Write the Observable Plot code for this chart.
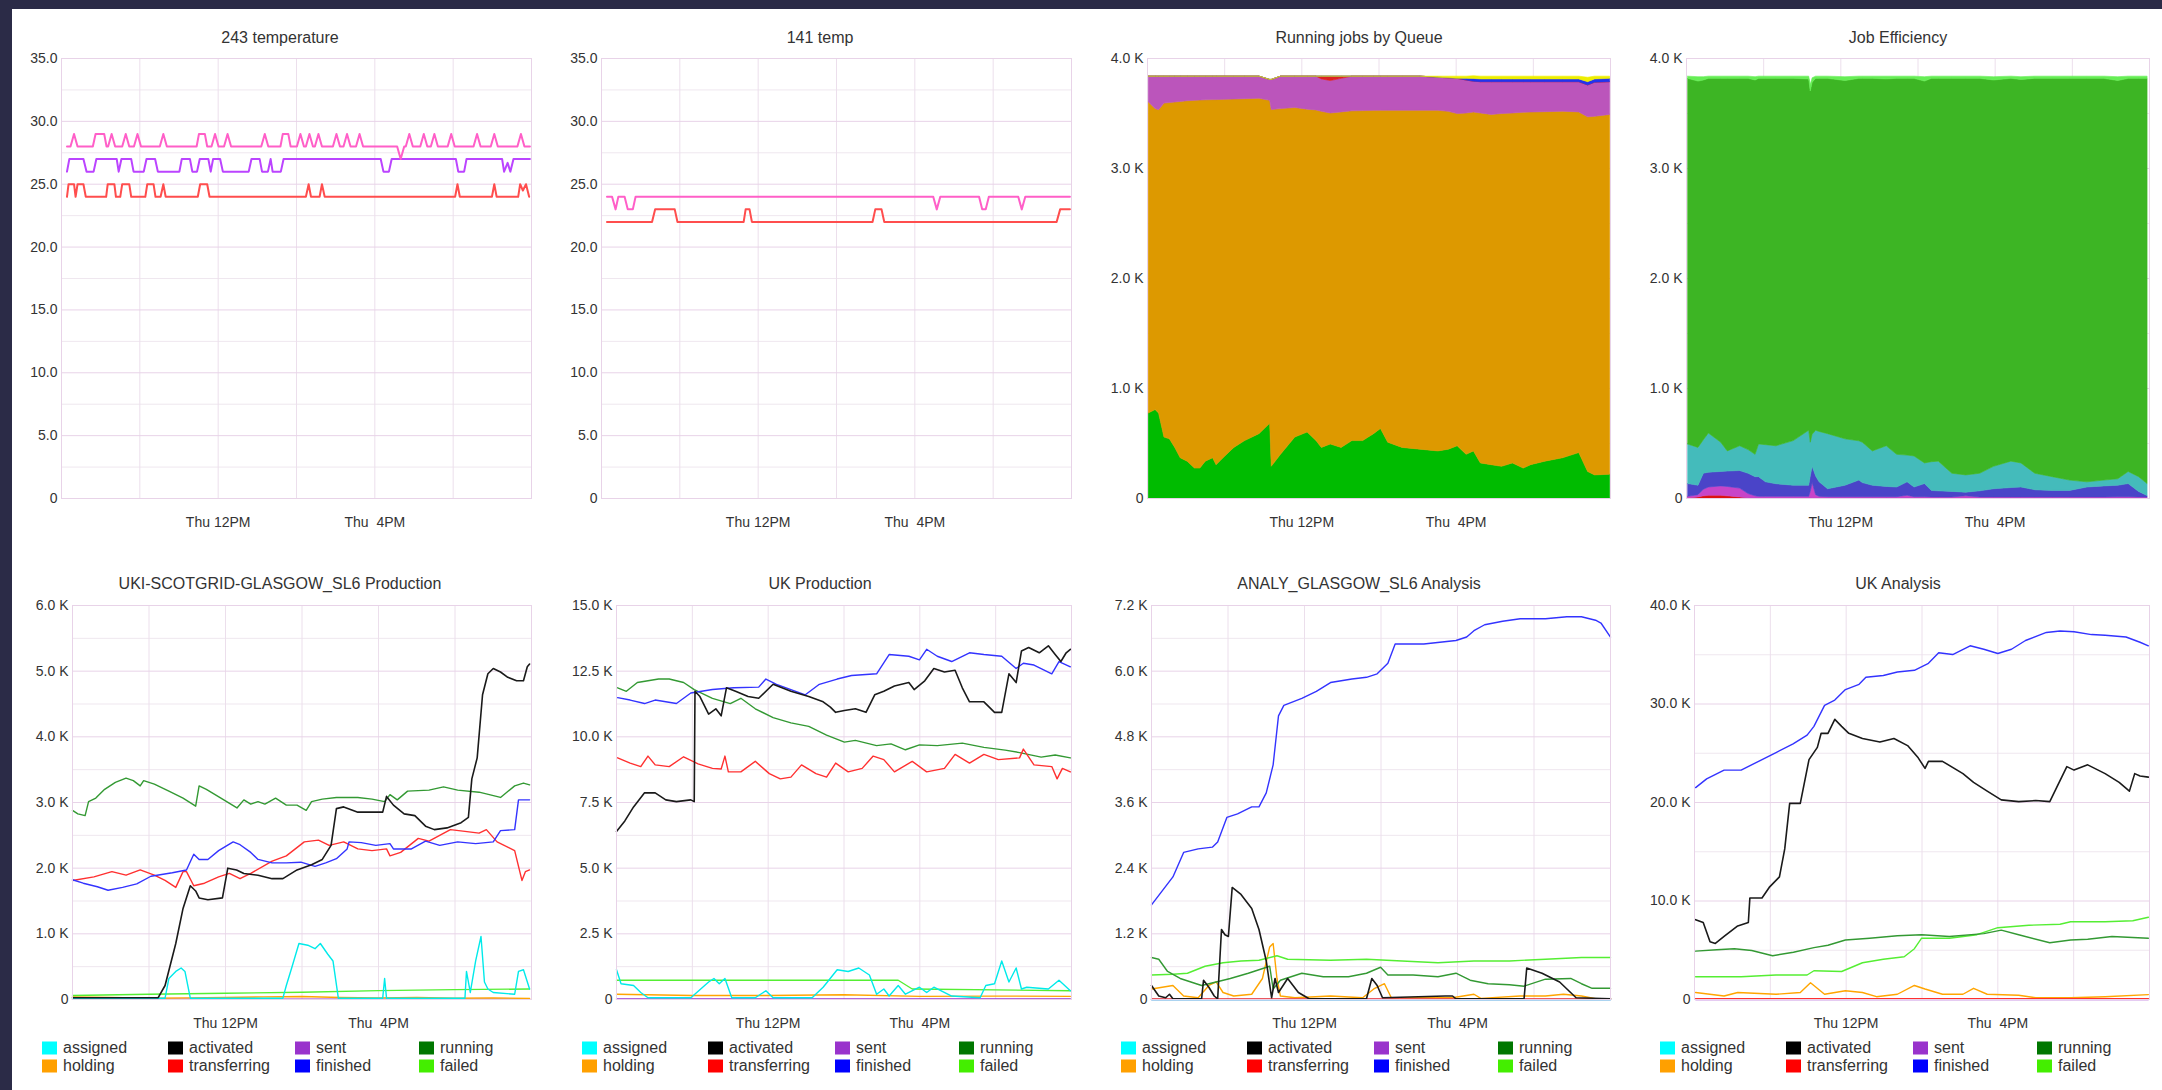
<!DOCTYPE html>
<html>
<head>
<meta charset="utf-8">
<script src="https://cdn.jsdelivr.net/npm/d3@7"></script>
<script src="https://cdn.jsdelivr.net/npm/@observablehq/plot@0.6"></script>
<style>
html,body{margin:0;padding:0;background:#2b2b47;}
#page{position:relative;width:2162px;height:1090px;background:#2b2b47;overflow:hidden;font-family:"Liberation Sans",Arial,sans-serif;}
#sheet{position:absolute;left:12px;top:9px;width:2150px;height:1081px;background:#fff;}
.chart{position:absolute;}
.chart svg{display:block;overflow:visible;}
.title{position:absolute;transform:translate(-50%,-50%);font-size:16px;color:#333;white-space:nowrap;line-height:1;}
.lg-sw{position:absolute;width:15px;height:13px;transform:translateY(-50%);}
.lg-tx{position:absolute;transform:translateY(-50%);font-size:16px;color:#333;white-space:nowrap;line-height:1;}
</style>
</head>
<body>
<div id="page"><div id="sheet"></div></div>
<script>
// ---------------- shared axis data ----------------
const xGrid = [8, 10, 12, 14, 16, 18, 20];
const xTickHours = [12, 16];
const xTickLabels = ["Thu 12PM", "Thu\u00a0\u00a04PM"];

const chartTitles = ["243 temperature", "141 temp", "Running jobs by Queue", "Job Efficiency",
  "UKI-SCOTGRID-GLASGOW_SL6 Production", "UK Production", "ANALY_GLASGOW_SL6 Analysis", "UK Analysis"];

const tempTicks = [0, 5, 10, 15, 20, 25, 30, 35];
const tempTickLabels = ["0", "5.0", "10.0", "15.0", "20.0", "25.0", "30.0", "35.0"];
const tempMinor = [2.5, 7.5, 12.5, 17.5, 22.5, 27.5, 32.5];
const jobsTicks = [0, 1000, 2000, 3000, 4000];
const jobsTickLabels = ["0", "1.0 K", "2.0 K", "3.0 K", "4.0 K"];
const jobsMinor = [500, 1500, 2500, 3500];
const p5Ticks = [0, 1000, 2000, 3000, 4000, 5000, 6000];
const p5TickLabels = ["0", "1.0 K", "2.0 K", "3.0 K", "4.0 K", "5.0 K", "6.0 K"];
const p5Minor = [500, 1500, 2500, 3500, 4500, 5500];
const p6Ticks = [0, 2500, 5000, 7500, 10000, 12500, 15000];
const p6TickLabels = ["0", "2.5 K", "5.0 K", "7.5 K", "10.0 K", "12.5 K", "15.0 K"];
const p6Minor = [1250, 3750, 6250, 8750, 11250, 13750];
const p7Ticks = [0, 1200, 2400, 3600, 4800, 6000, 7200];
const p7TickLabels = ["0", "1.2 K", "2.4 K", "3.6 K", "4.8 K", "6.0 K", "7.2 K"];
const p7Minor = [600, 1800, 3000, 4200, 5400, 6600];
const p8Ticks = [0, 10000, 20000, 30000, 40000];
const p8TickLabels = ["0", "10.0 K", "20.0 K", "30.0 K", "40.0 K"];
const p8Minor = [5000, 15000, 25000, 35000];

// ---------------- 243 temperature ----------------
const temp243Pink = [[8.14,28],[8.23,28],[8.32,29],[8.41,28],[8.80,28],[8.87,29],[9.09,29],[9.15,28],[9.19,28],[9.28,29],[9.37,28],[9.55,28],[9.64,29],[9.73,28],[9.85,28],[9.94,29],[10.03,28],[10.51,28],[10.60,29],[10.69,28],[11.45,28],[11.51,29],[11.66,29],[11.72,28],[11.83,28],[11.92,29],[12.01,28],[12.15,28],[12.24,29],[12.33,28],[13.10,28],[13.19,29],[13.28,28],[13.59,28],[13.65,29],[13.79,29],[13.85,28],[14.01,28],[14.10,29],[14.19,28],[14.24,28],[14.33,29],[14.42,28],[14.47,28],[14.56,29],[14.65,28],[14.93,28],[15.02,29],[15.11,28],[15.20,28],[15.29,29],[15.38,28],[15.52,28],[15.61,29],[15.70,28],[16.57,28],[16.66,27],[16.75,28],[16.79,28],[16.88,29],[16.97,28],[17.16,28],[17.25,29],[17.34,28],[17.43,28],[17.52,29],[17.61,28],[17.86,28],[17.95,29],[18.04,28],[18.52,28],[18.61,29],[18.70,28],[18.96,28],[19.05,29],[19.14,28],[19.64,28],[19.73,29],[19.82,28],[19.96,28]];
const temp243Purple = [[8.14,26],[8.20,27],[8.56,27],[8.64,26],[8.82,26],[8.89,27],[9.41,27],[9.46,26],[9.53,27],[9.78,27],[9.84,26],[10.10,26],[10.17,27],[10.39,27],[10.46,26],[11.01,26],[11.07,27],[11.28,27],[11.34,26],[11.46,26],[11.53,27],[11.75,27],[11.81,26],[11.87,27],[12.05,27],[12.12,26],[12.78,26],[12.85,27],[13.06,27],[13.12,26],[13.27,26],[13.34,27],[13.39,26],[13.60,26],[13.67,27],[16.15,27],[16.22,26],[16.36,26],[16.43,27],[18.07,27],[18.13,26],[18.28,26],[18.34,27],[19.25,27],[19.30,26],[19.39,26.7],[19.46,26],[19.54,27],[19.96,27]];
const temp243Red = [[8.14,24],[8.18,25],[8.32,25],[8.36,24],[8.41,25],[8.56,25],[8.62,24],[9.14,24],[9.18,25],[9.35,25],[9.39,24],[9.50,24],[9.55,25],[9.73,25],[9.78,24],[10.14,24],[10.19,25],[10.35,25],[10.40,24],[10.53,24],[10.60,25],[10.66,24],[11.48,24],[11.54,25],[11.72,25],[11.78,24],[14.24,24],[14.31,25],[14.37,24],[14.59,24],[14.65,25],[14.72,24],[18.05,24],[18.11,25],[18.17,24],[18.99,24],[19.05,25],[19.11,24],[19.66,24],[19.71,25],[19.78,24.5],[19.86,25],[19.94,24]];

// ---------------- 141 temp ----------------
const temp141Pink = [[8.14,24],[8.27,24],[8.36,23],[8.43,24],[8.59,24],[8.67,23],[8.80,23],[8.87,24],[16.47,24],[16.56,23],[16.65,24],[17.64,24],[17.72,23],[17.81,23],[17.89,24],[18.64,24],[18.73,23],[18.82,24],[19.96,24]];
const temp141Red = [[8.14,22],[9.29,22],[9.37,23],[9.87,23],[9.94,22],[11.63,22],[11.68,23],[11.78,23],[11.84,22],[14.92,22],[14.99,23],[15.15,23],[15.22,22],[19.62,22],[19.71,23],[19.96,23]];
const tempColors = {pink: "#ff5fc8", purple: "#bb44ff", red: "#ff4d4d"};

// ---------------- Running jobs by Queue (stacked, bottom to top) ----------------
const queueTimes = [8.03,8.21,8.30,8.44,8.58,8.72,8.86,9.04,9.23,9.37,9.51,9.70,9.79,9.97,10.25,10.53,10.90,11.18,11.22,11.46,11.83,12.15,12.38,12.52,12.75,13.03,13.31,13.59,13.87,14.05,14.24,14.61,15.07,15.54,15.81,16.04,16.27,16.46,16.64,16.92,17.19,17.47,17.75,17.94,18.31,18.77,19.19,19.42,19.60,19.99];
const queue1 = [772,804,772,554,538,460,366,335,272,272,335,366,303,366,460,522,585,679,288,397,554,600,522,460,491,460,522,522,585,632,507,460,444,428,444,475,397,428,319,303,288,319,272,303,335,366,413,241,210,216];
const queue2 = [2831,2736,2758,3036,3057,3140,3239,3277,3343,3346,3285,3256,3319,3258,3167,3108,3049,2936,3243,3143,2996,2935,3006,3055,3009,3050,2998,3000,2939,2893,3018,3065,3081,3097,3071,3020,3103,3081,3181,3184,3207,3181,3235,3206,3177,3150,3097,3224,3260,3271];
const queue3 = [232,295,305,245,240,235,230,223,220,217,215,213,213,211,208,205,201,190,274,295,285,300,307,295,295,305,315,313,311,310,310,310,310,300,305,320,300,280,285,298,290,285,278,276,273,269,275,290,310,298];
const queue4 = [0,0,0,0,0,0,0,0,0,0,0,0,0,0,0,0,0,0,0,0,0,0,0,25,40,20,0,0,0,0,0,0,0,0,0,0,0,0,0,0,0,0,0,0,0,0,0,0,0,0];
const queue5 = [0,0,0,0,0,0,0,0,0,0,0,0,0,0,0,0,0,0,0,0,0,0,0,0,0,0,0,0,0,0,0,0,0,0,0,0,15,25,25,25,25,25,25,25,25,25,25,30,30,30];
const queue6 = [0,0,0,0,0,0,0,0,0,0,0,0,0,0,0,0,0,0,0,0,0,0,0,0,0,0,0,0,0,0,0,0,0,10,15,20,20,25,25,25,25,25,25,25,25,25,25,40,25,20];
const queueNames = ["queue 1", "queue 2", "queue 3", "queue 4", "queue 5", "queue 6"];
const queueColors = ["#00bb00", "#dd9900", "#bb55bb", "#dd2222", "#2233ee", "#eeee00"];

// ---------------- Job Efficiency (stacked, bottom to top) ----------------
const effTimes = [8.04,8.31,8.45,8.58,8.90,9.07,9.39,9.61,9.79,9.88,10.06,10.33,10.78,11.18,11.22,11.27,11.36,11.45,11.67,12.12,12.48,12.57,12.83,13.19,13.46,13.73,13.91,14.18,14.36,14.54,14.89,15.25,15.61,15.97,16.42,16.68,17.04,17.49,17.94,18.39,18.83,19.19,19.46,19.73,19.95];
const eff1 = [0,10,20,25,25,20,10,0,0,0,0,0,0,0,0,0,0,0,0,0,0,0,0,0,0,0,0,0,0,0,0,0,0,0,0,0,0,0,0,0,0,0,0,0,0];
const eff2 = [15,20,60,75,85,85,80,40,20,15,15,15,15,15,60,140,30,15,12,12,12,12,12,12,12,25,12,12,10,10,10,20,10,10,10,10,10,10,10,10,10,12,12,10,8];
const eff3 = [116,86,145,135,131,140,160,185,174,179,132,115,101,101,140,148,170,132,72,104,151,128,104,93,88,122,88,119,59,55,50,33,55,74,85,90,65,59,59,90,100,104,119,50,14];
const eff4 = [360,344,305,356,266,183,225,215,203,297,338,345,406,500,307,292,416,458,501,422,357,367,312,370,297,243,282,188,261,270,165,157,160,204,240,219,150,125,94,47,53,59,110,134,109];
const eff5 = [3324,3330,3270,3224,3308,3387,3340,3375,3403,3324,3330,3340,3293,3194,3193,3200,3199,3210,3230,3257,3295,3308,3387,3335,3418,3425,3433,3471,3485,3480,3590,3605,3590,3512,3480,3486,3590,3621,3652,3668,3652,3620,3574,3621,3684];
const eff6 = [20,40,30,20,20,20,20,20,30,20,20,20,20,25,60,40,20,20,20,35,20,20,20,25,20,20,20,40,20,20,20,20,20,30,20,25,20,20,20,20,20,35,20,20,20];
const effNames = ["band 1", "band 2", "band 3", "band 4", "band 5", "band 6"];
const effColors = ["#dd1111", "#c844c8", "#4a44c8", "#44bbbb", "#3db524", "#66ee55"];

// ---------------- job states ----------------
const jobStates = ["assigned", "activated", "sent", "running", "holding", "transferring", "finished", "failed"];
const stateSwatch = ["#00ffff", "#000000", "#9933cc", "#007700", "#ffa000", "#ff0000", "#0000ff", "#44ee00"];
const stateLine = ["#00eaea", "#1a1a1a", "#9933cc", "#339933", "#ffa500", "#ff3030", "#3333ff", "#55ee33"];

// UKI-SCOTGRID-GLASGOW_SL6 Production
const p5Assigned = [[8.00,20],[10.42,20],[10.52,320],[10.61,373],[10.70,427],[10.84,480],[10.94,427],[11.08,20],[13.50,20],[13.59,213],[13.73,480],[13.92,853],[14.15,827],[14.34,773],[14.48,853],[14.67,693],[14.81,587],[14.95,20],[16.11,20],[16.16,320],[16.21,20],[18.26,20],[18.30,427],[18.40,107],[18.54,587],[18.68,960],[18.77,267],[18.86,160],[19.00,107],[19.56,80],[19.66,427],[19.79,453],[19.95,160]];
const p5Activated = [[8.00,27],[10.24,27],[10.42,213],[10.70,853],[10.89,1387],[11.08,1733],[11.22,1653],[11.31,1547],[11.54,1520],[11.92,1547],[12.06,2000],[12.29,1973],[12.48,1920],[12.85,1893],[13.22,1840],[13.50,1840],[13.87,1973],[14.25,2053],[14.53,2133],[14.76,2347],[14.90,2907],[15.09,2933],[15.46,2853],[16.11,2853],[16.21,3093],[16.39,2960],[16.67,2827],[16.95,2800],[17.23,2640],[17.46,2587],[17.79,2613],[18.16,2693],[18.35,2773],[18.44,3360],[18.58,3680],[18.72,4640],[18.86,4960],[19.00,5040],[19.19,4987],[19.38,4907],[19.61,4853],[19.79,4853],[19.89,5067],[19.95,5109]];
const p5Sent = [[8.00,5],[19.95,5]];
const p5Running = [[8.00,2880],[8.14,2827],[8.33,2800],[8.42,3013],[8.61,3067],[8.84,3200],[9.12,3307],[9.40,3370],[9.59,3333],[9.77,3253],[9.86,3333],[10.14,3280],[10.52,3173],[10.89,3067],[11.22,2944],[11.31,3253],[11.50,3200],[11.88,3067],[12.30,2917],[12.48,3040],[12.66,2976],[12.85,3013],[13.03,2976],[13.31,3067],[13.59,2960],[13.87,2960],[14.11,2880],[14.25,3013],[14.53,3051],[14.90,3077],[15.46,3077],[15.83,3051],[16.16,3013],[16.30,3120],[16.49,3040],[16.76,3173],[17.32,3189],[17.70,3237],[18.07,3189],[18.63,3157],[19.19,3077],[19.56,3253],[19.79,3296],[19.95,3269]];
const p5Holding = [[8.0,40],[9.0,30],[10.0,20],[11.0,25],[12.0,30],[13.0,40],[14.0,45],[15.0,30],[16.0,25],[17.0,30],[18.0,20],[19.0,25],[19.95,15]];
const p5Transferring = [[8.00,1813],[8.56,1867],[9.03,1947],[9.40,1893],[9.77,1973],[10.14,1893],[10.42,1813],[10.70,1707],[10.89,1947],[10.98,1947],[11.17,1733],[11.45,1771],[11.82,1867],[12.10,1920],[12.38,1840],[12.66,1920],[13.22,2107],[13.59,2187],[14.06,2400],[14.43,2427],[14.71,2347],[15.09,2400],[15.46,2293],[15.83,2267],[16.21,2293],[16.30,2187],[16.58,2240],[17.04,2453],[17.32,2411],[17.88,2587],[18.26,2560],[18.63,2533],[18.82,2587],[19.10,2400],[19.56,2267],[19.75,1813],[19.84,1947],[19.95,1973]];
const p5Finished = [[8.00,1824],[8.28,1771],[8.65,1717],[8.93,1664],[9.31,1707],[9.68,1760],[10.05,1877],[10.61,1931],[10.98,1973],[11.17,2213],[11.31,2133],[11.54,2133],[11.82,2267],[12.20,2400],[12.38,2357],[12.66,2240],[12.85,2133],[13.22,2080],[13.59,2080],[13.97,2091],[14.34,2027],[14.62,2080],[14.90,2144],[15.18,2293],[15.23,2400],[15.55,2389],[15.93,2347],[16.30,2373],[16.39,2293],[16.86,2293],[17.23,2411],[17.60,2347],[18.07,2400],[18.54,2373],[19.00,2400],[19.19,2571],[19.56,2587],[19.66,3040],[19.95,3040]];
const p5Failed = [[8.0,60],[10.0,80],[12.0,95],[14.0,110],[16.0,135],[18.0,150],[19.95,160]];

// UK Production
const p6Assigned = [[8.00,1133],[8.12,600],[8.45,533],[8.64,267],[8.83,67],[9.96,67],[10.43,667],[10.57,800],[10.71,600],[10.86,800],[11.04,67],[11.66,67],[11.94,333],[12.13,67],[13.16,67],[13.45,467],[13.82,1133],[14.11,1067],[14.39,1200],[14.67,933],[14.86,200],[15.05,400],[15.19,133],[15.43,533],[15.62,200],[15.99,467],[16.18,267],[16.37,467],[16.84,133],[17.59,67],[17.74,533],[17.97,600],[18.16,1467],[18.35,667],[18.54,1200],[18.68,400],[18.82,467],[19.39,400],[19.67,733],[19.97,333]];
const p6Activated = [[8.00,6400],[8.22,6800],[8.45,7333],[8.74,7867],[9.02,7867],[9.30,7600],[9.58,7533],[9.96,7600],[10.05,7533],[10.07,11733],[10.20,11533],[10.43,10867],[10.62,11067],[10.76,10800],[10.90,11867],[11.14,11733],[11.47,11533],[11.75,11467],[12.13,12000],[12.60,11733],[13.07,11533],[13.45,11333],[13.64,11133],[13.78,10933],[14.01,11000],[14.30,11067],[14.58,10933],[14.81,11600],[15.05,11733],[15.33,11933],[15.71,12067],[15.85,11800],[16.13,12133],[16.37,12600],[16.65,12467],[16.93,12533],[17.12,11867],[17.31,11333],[17.69,11333],[17.97,10933],[18.16,10933],[18.35,12400],[18.54,12067],[18.68,13267],[18.87,13400],[19.15,13200],[19.39,13467],[19.57,13133],[19.72,12867],[19.86,13200],[19.97,13333]];
const p6Sent = [[8.00,20],[19.97,20]];
const p6Running = [[8.03,11867],[8.26,11733],[8.55,12067],[9.11,12200],[9.39,12200],[9.77,12067],[10.05,11800],[10.53,11467],[11.00,11267],[11.28,11467],[11.66,11067],[12.13,10733],[12.60,10533],[13.07,10400],[13.54,10067],[14.01,9800],[14.30,9867],[14.86,9667],[15.24,9733],[15.62,9507],[15.99,9693],[16.46,9667],[17.12,9760],[17.69,9600],[18.25,9493],[18.63,9400],[19.20,9227],[19.57,9307],[19.97,9200]];
const p6Holding = [[8.0,200],[10.0,150],[12.0,150],[14.0,180],[16.0,120],[18.0,130],[19.97,120]];
const p6Transferring = [[8.03,9200],[8.36,9000],[8.64,8867],[8.83,9267],[9.02,8933],[9.39,8867],[9.77,9240],[10.15,8973],[10.53,8800],[10.76,8773],[10.86,9267],[10.95,8667],[11.28,8667],[11.66,9067],[12.03,8600],[12.32,8400],[12.60,8467],[12.88,8933],[13.26,8600],[13.54,8467],[13.78,9000],[14.11,8667],[14.48,8800],[14.77,9267],[15.05,9133],[15.33,8667],[15.80,9067],[16.18,8667],[16.65,8800],[16.93,9333],[17.31,9000],[17.69,9333],[18.07,9133],[18.63,9200],[18.73,9533],[19.01,8933],[19.48,8867],[19.62,8400],[19.76,8800],[19.97,8667]];
const p6Finished = [[8.03,11493],[8.36,11400],[8.74,11267],[9.02,11400],[9.58,11267],[9.96,11667],[10.53,11800],[11.09,11867],[11.75,11893],[11.94,12200],[12.22,12000],[12.60,11800],[12.98,11600],[13.35,12000],[13.82,12200],[14.20,12333],[14.86,12400],[15.19,13133],[15.71,13067],[15.99,12933],[16.18,13333],[16.46,13067],[16.84,12867],[17.31,13200],[17.69,13133],[18.16,13067],[18.54,12600],[18.73,12800],[19.01,12733],[19.48,12400],[19.67,12867],[19.97,12667]];
const p6Failed = [[8.00,733],[15.43,733],[15.80,400],[19.97,333]];

// ANALY_GLASGOW_SL6 Analysis
const p7Assigned = [[8.00,0],[20.00,0]];
const p7Activated = [[8.00,256],[8.19,64],[8.37,32],[8.47,96],[8.56,13],[9.31,13],[9.36,352],[9.50,224],[9.64,64],[9.73,13],[9.83,1280],[9.92,1184],[10.01,1152],[10.11,2048],[10.34,1920],[10.62,1664],[10.81,1280],[11.00,704],[11.14,32],[11.23,384],[11.32,128],[11.56,384],[11.84,128],[12.12,13],[13.62,13],[13.76,384],[13.90,256],[14.04,32],[15.68,64],[15.87,64],[15.96,13],[17.74,13],[17.81,576],[18.21,480],[18.67,320],[19.10,32],[20.00,13]];
const p7Sent = [[8.00,0],[20.00,0]];
const p7Running = [[8.00,768],[8.19,736],[8.42,512],[8.75,384],[9.31,256],[9.69,320],[10.06,384],[10.53,480],[11.09,608],[11.18,192],[11.37,352],[11.93,480],[12.49,416],[13.15,416],[13.62,480],[13.99,589],[14.18,448],[14.84,448],[15.49,416],[15.96,480],[16.33,352],[16.80,288],[17.36,269],[17.74,243],[18.30,371],[18.96,384],[19.24,288],[19.52,205],[20.00,205]];
const p7Holding = [[8.00,192],[8.28,224],[8.56,256],[8.84,64],[9.22,32],[9.50,256],[9.69,320],[9.87,128],[10.15,64],[10.62,96],[10.90,384],[11.09,960],[11.18,1024],[11.28,384],[11.37,64],[11.75,32],[12.68,64],[13.52,32],[13.81,192],[14.09,288],[14.27,32],[15.87,32],[16.43,96],[16.61,20],[17.64,64],[18.30,64],[18.77,96],[19.24,64],[19.61,13],[20.00,13]];
const p7Transferring = [[8.00,10],[20.00,10]];
const p7Finished = [[8.00,1728],[8.28,1984],[8.56,2240],[8.84,2688],[9.22,2752],[9.59,2784],[9.73,2880],[9.97,3328],[10.25,3392],[10.62,3520],[10.81,3520],[11.00,3776],[11.18,4288],[11.32,5184],[11.46,5376],[11.93,5504],[12.31,5632],[12.68,5792],[13.24,5856],[13.62,5888],[13.90,5952],[14.18,6144],[14.37,6496],[15.12,6496],[15.96,6560],[16.24,6624],[16.43,6739],[16.71,6848],[17.18,6912],[17.64,6957],[18.30,6957],[18.86,6995],[19.24,6995],[19.61,6931],[19.75,6880],[20.00,6624]];
const p7Failed = [[8.00,448],[8.56,461],[8.94,480],[9.40,608],[9.87,672],[10.34,704],[10.81,717],[11.28,800],[11.56,736],[12.68,717],[13.62,736],[14.55,704],[15.49,672],[16.43,704],[17.36,704],[18.30,736],[19.24,768],[20.00,768]];

// UK Analysis
const p8Assigned = [[8.03,30],[19.97,30]];
const p8Activated = [[8.03,8107],[8.23,7822],[8.41,5867],[8.55,5689],[8.78,6400],[9.14,7467],[9.42,7822],[9.46,10311],[9.78,10311],[9.97,11378],[10.24,12444],[10.38,15289],[10.51,19911],[10.79,19911],[11.02,24356],[11.24,25600],[11.34,27022],[11.52,27022],[11.70,28444],[11.88,27733],[12.07,27022],[12.43,26489],[12.89,26133],[13.26,26489],[13.62,25778],[13.90,24533],[14.08,23467],[14.17,24178],[14.54,24178],[15.08,22933],[15.36,22044],[15.72,21156],[16.09,20267],[16.55,20089],[17.00,20196],[17.37,20089],[17.55,21511],[17.82,23644],[18.01,23289],[18.37,23822],[18.83,22933],[19.20,22044],[19.47,21156],[19.61,22933],[19.75,22684],[19.97,22578]];
const p8Sent = [[8.03,0],[19.97,0]];
const p8Running = [[8.03,4907],[8.59,5049],[9.05,5156],[9.51,4978],[10.06,4444],[10.61,4800],[11.15,5262],[11.52,5511],[11.98,6044],[12.62,6222],[13.35,6471],[13.99,6578],[14.72,6400],[15.63,6684],[16.09,7040],[16.55,6578],[17.37,5760],[17.92,6044],[18.37,6116],[19.01,6400],[19.97,6222]];
const p8Holding = [[8.03,711],[8.78,356],[9.14,711],[10.15,533],[10.79,711],[11.06,1707],[11.43,533],[11.98,889],[12.43,711],[12.80,284],[13.35,533],[13.80,1422],[14.08,1067],[14.54,533],[15.08,533],[15.36,1138],[15.72,533],[16.55,427],[17.00,178],[17.92,178],[18.83,284],[19.97,498]];
const p8Transferring = [[8.03,80],[19.97,80]];
const p8Finished = [[8.03,21511],[8.32,22400],[8.78,23289],[9.23,23289],[9.69,24178],[10.15,25067],[10.60,25956],[10.97,26844],[11.15,27733],[11.43,29867],[11.70,30400],[11.98,31467],[12.34,32000],[12.52,32711],[12.98,32889],[13.35,33244],[13.80,33422],[14.17,34133],[14.44,35200],[14.81,35022],[15.27,35911],[15.63,35556],[16.00,35129],[16.36,35556],[16.73,36444],[17.28,37262],[17.64,37404],[18.01,37333],[18.47,37049],[18.83,36978],[19.38,36800],[19.75,36267],[19.97,35911]];
const p8Failed = [[8.03,2311],[9.23,2311],[10.15,2489],[10.97,2489],[11.15,2916],[11.88,2844],[12.43,3733],[12.98,4089],[13.53,4338],[13.80,5156],[13.99,6222],[14.72,6222],[15.45,6578],[16.00,7289],[16.82,7538],[17.64,7644],[17.92,7893],[18.83,7893],[19.56,8000],[19.97,8356]];

// ---------------- drawing ----------------
const page = document.getElementById("page");
const panelX = [0, 540, 1079, 1618];

function put(el, left, top) { el.style.left = left + "px"; el.style.top = top + "px"; page.appendChild(el); }

function addTitle(text, cx, cy) {
  const d = document.createElement("div");
  d.className = "title"; d.textContent = text; put(d, cx, cy);
}

function addChart({ox, top, height, ml, mt, mb, yMax, yTicks, yMinor, yLabels, marks, color}) {
  const yFmt = new Map(yTicks.map((t, i) => [t, yLabels[i]]));
  const xFmt = new Map(xTickHours.map((t, i) => [t, xTickLabels[i]]));
  const opts = {
    width: 540, height, marginLeft: ml, marginRight: 9, marginTop: mt, marginBottom: mb,
    x: {domain: [8, 20]},
    y: {domain: [0, yMax]},
    style: {fontFamily: "'Liberation Sans', Arial, sans-serif", fontSize: "14px", color: "#333", background: "transparent", overflow: "visible"},
    marks: [
      Plot.ruleY(yMinor, {stroke: "#efe7ef"}),
      Plot.ruleX(xGrid, {stroke: "#ecdfec"}),
      Plot.ruleY(yTicks, {stroke: "#e8d3e8"}),
      ...marks,
      Plot.frame({stroke: "#e8d3e8"}),
      Plot.axisY({ticks: yTicks, tickFormat: d => yFmt.get(d), tickSize: 0, tickPadding: 4, label: null}),
      Plot.axisX({ticks: xTickHours, tickFormat: d => xFmt.get(d), tickSize: 0, tickPadding: 19, label: null})
    ]
  };
  if (color) opts.color = color;
  const svg = Plot.plot(opts);
  const wrap = document.createElement("div");
  wrap.className = "chart"; wrap.appendChild(svg); put(wrap, ox, top);
}

const tLine = (data, stroke) => Plot.line(data, {x: d => d[0], y: d => d[1], stroke, strokeWidth: 2});

// top row
const TOP = {top: 45, height: 490, mt: 13, mb: 37};
addChart({...TOP, ox: panelX[0], ml: 61, yMax: 35, yTicks: tempTicks, yMinor: tempMinor, yLabels: tempTickLabels,
  marks: [tLine(temp243Red, tempColors.red), tLine(temp243Purple, tempColors.purple), tLine(temp243Pink, tempColors.pink)]});
addChart({...TOP, ox: panelX[1], ml: 61, yMax: 35, yTicks: tempTicks, yMinor: tempMinor, yLabels: tempTickLabels,
  marks: [tLine(temp141Red, tempColors.red), tLine(temp141Pink, tempColors.pink)]});

function stackRows(names, times, series) {
  return names.flatMap((name, k) => times.map((t, i) => ({t, v: series[k][i], name})));
}
const queueRows = stackRows(queueNames, queueTimes, [queue1, queue2, queue3, queue4, queue5, queue6]);
addChart({...TOP, ox: panelX[2], ml: 68, yMax: 4000, yTicks: jobsTicks, yMinor: jobsMinor, yLabels: jobsTickLabels,
  color: {type: "ordinal", domain: queueNames, range: queueColors},
  marks: [Plot.areaY(queueRows, {x: "t", y: "v", z: "name", fill: "name", stroke: "name", strokeWidth: 0.6})]});
const effRows = stackRows(effNames, effTimes, [eff1, eff2, eff3, eff4, eff5, eff6]);
addChart({...TOP, ox: panelX[3], ml: 68, yMax: 4000, yTicks: jobsTicks, yMinor: jobsMinor, yLabels: jobsTickLabels,
  color: {type: "ordinal", domain: effNames, range: effColors},
  marks: [Plot.areaY(effRows, {x: "t", y: "v", z: "name", fill: "name", stroke: "name", strokeWidth: 0.6})]});

// bottom row
const BOT = {top: 590, height: 444, mt: 15, mb: 35};
const drawOrder = ["sent", "holding", "failed", "assigned", "running", "transferring", "finished", "activated"];
function stateMarks(seriesByState) {
  return drawOrder.map(s => {
    const k = jobStates.indexOf(s);
    return Plot.line(seriesByState[s], {x: d => d[0], y: d => d[1], stroke: stateLine[k], strokeWidth: s === "activated" ? 1.6 : 1.4});
  });
}
addChart({...BOT, ox: panelX[0], ml: 72, yMax: 6000, yTicks: p5Ticks, yMinor: p5Minor, yLabels: p5TickLabels,
  marks: stateMarks({assigned: p5Assigned, activated: p5Activated, sent: p5Sent, running: p5Running, holding: p5Holding, transferring: p5Transferring, finished: p5Finished, failed: p5Failed})});
addChart({...BOT, ox: panelX[1], ml: 76, yMax: 15000, yTicks: p6Ticks, yMinor: p6Minor, yLabels: p6TickLabels,
  marks: stateMarks({assigned: p6Assigned, activated: p6Activated, sent: p6Sent, running: p6Running, holding: p6Holding, transferring: p6Transferring, finished: p6Finished, failed: p6Failed})});
addChart({...BOT, ox: panelX[2], ml: 72, yMax: 7200, yTicks: p7Ticks, yMinor: p7Minor, yLabels: p7TickLabels,
  marks: stateMarks({assigned: p7Assigned, activated: p7Activated, sent: p7Sent, running: p7Running, holding: p7Holding, transferring: p7Transferring, finished: p7Finished, failed: p7Failed})});
addChart({...BOT, ox: panelX[3], ml: 76, yMax: 40000, yTicks: p8Ticks, yMinor: p8Minor, yLabels: p8TickLabels,
  marks: stateMarks({assigned: p8Assigned, activated: p8Activated, sent: p8Sent, running: p8Running, holding: p8Holding, transferring: p8Transferring, finished: p8Finished, failed: p8Failed})});

// titles
chartTitles.forEach((t, i) => addTitle(t, panelX[i % 4] + 280, i < 4 ? 38 : 584));

// legends (4 columns x 2 rows)
const legendCols = [42, 168, 295, 419];
const legendRows = [1048, 1066];
for (let p = 0; p < 4; p++) {
  jobStates.forEach((s, k) => {
    const col = k % 4, row = Math.floor(k / 4);
    const sw = document.createElement("div");
    sw.className = "lg-sw"; sw.style.background = stateSwatch[k];
    put(sw, panelX[p] + legendCols[col], legendRows[row]);
    const tx = document.createElement("div");
    tx.className = "lg-tx"; tx.textContent = s;
    put(tx, panelX[p] + legendCols[col] + 21, legendRows[row]);
  });
}
</script>
</body>
</html>
